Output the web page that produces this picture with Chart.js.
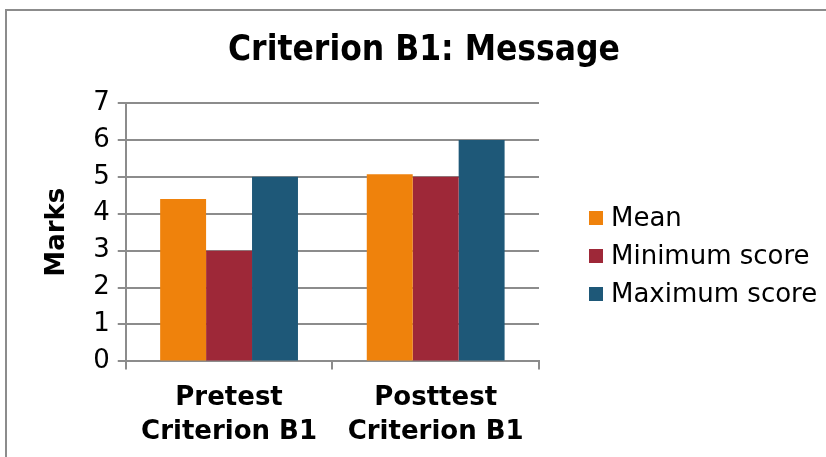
<!DOCTYPE html>
<html>
<head>
<meta charset="utf-8">
<script src="https://cdn.jsdelivr.net/npm/chart.js@4"></script>
<style>
  html, body { margin: 0; padding: 0; background: #fff; }
  #wrap { position: relative; width: 826px; height: 457px; overflow: hidden; }
  #frame { position: absolute; left: 5px; top: 9px; width: 830px; height: 470px; border: 2px solid #8c8c8c; box-sizing: border-box; }
  #chart { position: absolute; left: 0; top: 0; }
</style>
</head>
<body>
<div id="wrap">
  <div id="frame"></div>
  <canvas id="chart" width="826" height="457"></canvas>
</div>
<script>
// chart data
const categories = [['Pretest', 'Criterion B1'], ['Posttest', 'Criterion B1']];
const meanScores = [4.4, 5.07];
const minScores = [3, 5];
const maxScores = [5, 6];
const yTicks = [0, 1, 2, 3, 4, 5, 6, 7];

const colors = {
  mean: '#ef820c',
  min: '#9e2838',
  max: '#1e5878',
  grid: '#8c8c8c',
  text: '#000'
};

const font = 'DejaVu Sans';

// legend drawn to the right of the plot, like the original
const sideLegend = {
  id: 'sideLegend',
  afterDraw(chart) {
    const ctx = chart.ctx;
    const area = chart.chartArea;
    const items = chart.data.datasets;
    const rowH = 38;
    const x0 = area.right + 50;
    const y0 = 218;
    ctx.save();
    ctx.font = '26px "' + font + '"';
    ctx.textBaseline = 'middle';
    ctx.textAlign = 'left';
    items.forEach((ds, i) => {
      const y = y0 + i * rowH;
      ctx.fillStyle = ds.backgroundColor;
      ctx.fillRect(x0, y - 7, 14, 14);
      ctx.fillStyle = colors.text;
      ctx.fillText(ds.label, x0 + 22, y + 1);
    });
    ctx.restore();
  }
};

new Chart(document.getElementById('chart'), {
  type: 'bar',
  data: {
    labels: categories,
    datasets: [
      { label: 'Mean', data: meanScores, backgroundColor: colors.mean },
      { label: 'Minimum score', data: minScores, backgroundColor: colors.min },
      { label: 'Maximum score', data: maxScores, backgroundColor: colors.max }
    ]
  },
  plugins: [sideLegend],
  options: {
    responsive: false,
    animation: false,
    layout: { padding: { left: 30, right: 8, top: 0, bottom: -4 } },
    datasets: { bar: { categoryPercentage: 0.667, barPercentage: 1 } },
    plugins: {
      title: {
        display: true,
        text: 'Criterion B1: Message',
        color: colors.text,
        font: { family: 'DejaVu Sans Condensed', size: 35, weight: 'bold' },
        padding: { top: 30, bottom: 31 }
      },
      legend: { display: false },
      tooltip: { enabled: false }
    },
    scales: {
      x: {
        grid: { drawOnChartArea: false, offset: true, color: colors.grid, tickLength: 8, lineWidth: 2 },
        border: { color: colors.grid, width: 2 },
        ticks: { color: colors.text, font: { family: font, size: 26, weight: 'bold', lineHeight: 1.3 }, padding: 12, maxRotation: 0 }
      },
      y: {
        min: 0,
        max: 7,
        afterBuildTicks: axis => { axis.ticks = yTicks.map(v => ({ value: v })); },
        grid: { color: colors.grid, tickLength: 8, lineWidth: 2 },
        border: { color: colors.grid, width: 2 },
        ticks: { color: colors.text, font: { family: font, size: 26 }, padding: 8 },
        title: {
          display: true,
          text: 'Marks',
          color: colors.text,
          font: { family: font, size: 26, weight: 'bold' },
          padding: { top: 12, bottom: 12 }
        }
      },
      // empty axis that keeps room for the legend on the right
      legendRoom: {
        type: 'linear',
        position: 'right',
        display: true,
        grid: { display: false },
        border: { display: false },
        ticks: { display: false },
        afterFit: s => { s.width = 279; }
      }
    }
  }
});
</script>
</body>
</html>
